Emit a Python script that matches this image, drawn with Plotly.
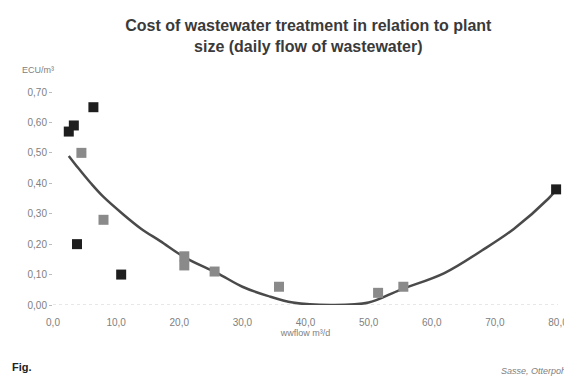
import plotly.graph_objects as go

# --- data ---
dark_x = [2.5, 3.3, 6.4, 3.8, 10.8, 79.7]
dark_y = [0.57, 0.59, 0.65, 0.20, 0.10, 0.38]

gray_x = [4.5, 8.0, 20.8, 20.8, 25.6, 35.8, 51.5, 55.5]
gray_y = [0.50, 0.28, 0.16, 0.13, 0.11, 0.06, 0.04, 0.06]

trend_x = [2.5, 4, 6, 8, 11, 14, 17, 21, 26, 30, 34, 38, 44, 50, 55, 62, 68, 73, 78.5, 80]
trend_y = [0.49, 0.45, 0.40, 0.355, 0.30, 0.25, 0.21, 0.155, 0.105, 0.06, 0.03, 0.008, 0.0,
           0.008, 0.05, 0.105, 0.18, 0.25, 0.35, 0.385]

x_ticks = [0, 10, 20, 30, 40, 50, 60, 70, 80]
x_tick_labels = ["0,0", "10,0", "20,0", "30,0", "40,0", "50,0", "60,0", "70,0", "80,0"]
y_ticks = [0, 0.1, 0.2, 0.3, 0.4, 0.5, 0.6, 0.7]
y_tick_labels = ["0,00", "0,10", "0,20", "0,30", "0,40", "0,50", "0,60", "0,70"]

title_text = "Cost of wastewater treatment in relation to plant<br>size (daily flow of wastewater)"
y_unit = "ECU/m³"
x_title = "wwflow m³/d"
source = "Sasse, Otterpohl"

fig = go.Figure()

fig.add_trace(go.Scatter(
    x=trend_x, y=trend_y, mode="lines",
    line=dict(color="#4a4a4a", width=2.5, shape="spline", smoothing=1.0),
    cliponaxis=False, showlegend=False, hoverinfo="skip"))

fig.add_trace(go.Scatter(
    x=gray_x, y=gray_y, mode="markers",
    marker=dict(symbol="square", size=10, color="#8a8a8a"),
    cliponaxis=False, showlegend=False))

fig.add_trace(go.Scatter(
    x=dark_x, y=dark_y, mode="markers",
    marker=dict(symbol="square", size=10, color="#1e1e1e"),
    cliponaxis=False, showlegend=False))

fig.update_layout(
    width=572, height=379,
    margin=dict(l=45, r=15, t=84, b=82),
    paper_bgcolor="white", plot_bgcolor="white",
    font=dict(family="Liberation Sans, Arial, sans-serif", color="#777"),
    title=dict(text=title_text, x=0.525, xanchor="center", y=0.94, yanchor="top",
               font=dict(size=16, color="#3a3a3a", family="Liberation Sans, Arial, sans-serif", weight="bold")),
    xaxis=dict(range=[0, 80], tickvals=x_ticks, ticktext=x_tick_labels,
               showgrid=False, zeroline=False, showline=False,
               ticks="", ticklabelstandoff=10,
               tickfont=dict(size=10, color="#808080"),
               title=dict(text=x_title, standoff=2, font=dict(size=9, color="#808080"))),
    yaxis=dict(range=[0, 0.70], tickvals=y_ticks, ticktext=y_tick_labels,
               showgrid=False, zeroline=False, showline=False,
               ticks="outside", ticklen=3, tickcolor="#bbbbbb",
               tickfont=dict(size=10, color="#808080")),
    shapes=[dict(type="line", xref="x", yref="y", x0=0, x1=80, y0=0, y1=0,
                 line=dict(color="#cfcfcf", width=1, dash="dot"), layer="below")],
    annotations=[
        dict(text=y_unit, xref="paper", yref="paper", x=-0.065, y=1.105, xanchor="left", yanchor="middle",
             showarrow=False, font=dict(size=9, color="#808080")),
        dict(text="<i>" + source + "</i>", xref="paper", yref="paper", x=1.025, y=-0.31,
             xanchor="right", yanchor="middle", showarrow=False,
             font=dict(size=9, color="#808080")),
        dict(text="<b>Fig.</b>", xref="paper", yref="paper", x=-0.085, y=-0.33,
             xanchor="left", yanchor="bottom", showarrow=False,
             font=dict(size=11, color="#222")),
    ],
)

fig.write_html("out.html")
